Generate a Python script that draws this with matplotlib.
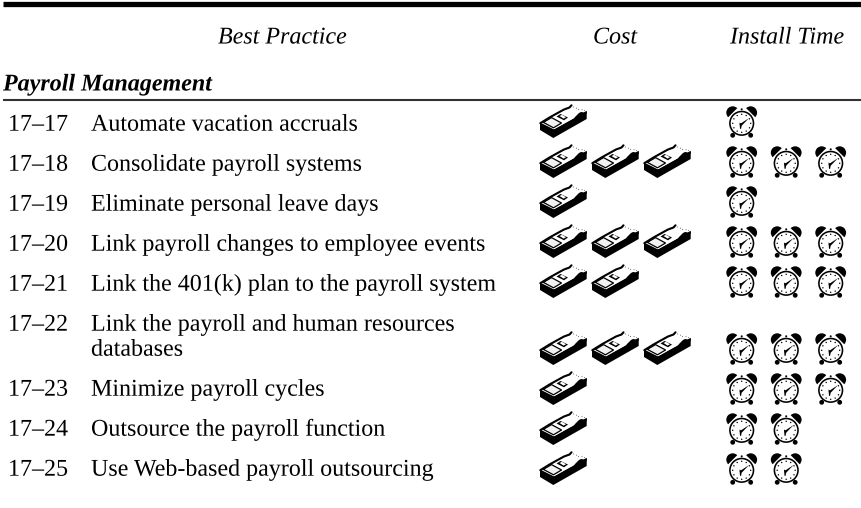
import numpy as np
import matplotlib
matplotlib.use("Agg")
import matplotlib.pyplot as plt
import matplotlib.patheffects as pe
from matplotlib.patches import Polygon, Circle, Wedge

# ---- data ----
practice_ids = ["17–17", "17–18", "17–19", "17–20", "17–21", "17–22", "17–23", "17–24", "17–25"]
practices = [
    "Automate vacation accruals",
    "Consolidate payroll systems",
    "Eliminate personal leave days",
    "Link payroll changes to employee events",
    "Link the 401(k) plan to the payroll system",
    "Link the payroll and human resources\ndatabases",
    "Minimize payroll cycles",
    "Outsource the payroll function",
    "Use Web-based payroll outsourcing",
]
cost_icons = [1, 3, 1, 3, 2, 3, 1, 1, 1]
time_icons = [1, 3, 1, 3, 3, 3, 3, 2, 2]
header_practice = "Best Practice"
header_cost = "Cost"
header_time = "Install Time"
section = "Payroll Management"

# ---- layout (pixels) ----
W, H = 862, 508
ROW_STEP = 40
LINE_STEP = 25
FIRST_BASE = 130.7
FIRST_ICON = 121.5
COST_X = 540
COST_STEP = 52
CLOCK_XS = 727
CLOCK_STEP = 44.5
FS = 17.3

plt.rcParams["font.family"] = ["Liberation Serif", "DejaVu Serif"]
plt.rcParams["path.effects"] = [pe.Normal()]
fig = plt.figure(figsize=(W / 100, H / 100), dpi=100)
ax = fig.add_axes([0, 0, 1, 1])
ax.set_xlim(0, W)
ax.set_ylim(H, 0)
ax.axis("off")


def poly(x0, y0, pts, fc, ec="none", lw=0, z=3):
    arr = np.asarray(pts, float) + [x0, y0]
    ax.add_patch(Polygon(arr, closed=True, fc=fc, ec=ec, lw=lw, zorder=z, joinstyle="round"))


def money(x0, cy):
    y0 = cy - 16.5
    # black block with thick side
    poly(x0, y0, [(0, 18), (13.3, 24.5), (46.7, 6), (46.7, 14), (13.3, 33), (0, 25)], "black")
    # top face
    poly(x0, y0, [(0.6, 17.8), (31, 0.6), (46.5, 6.2), (13.5, 24.6)], "white", z=4)
    # dark outline along back-left edge
    ax.plot(np.array([0.3, 9.5, 14, 24, 29.5, 31.5]) + x0, np.array([18.2, 12.5, 10, 4.5, 2.5, 0.3]) + y0,
            color="black", lw=1.5, zorder=5, solid_capstyle="round")
    # bill on the left half
    poly(x0, y0, [(3.4, 17.4), (11.5, 12.6), (21.5, 18), (13.5, 22.8)], "#f2f2f2", "black", 0.9, z=5)
    ax.plot(np.array([1.5, 13.5]) + x0, np.array([19, 25]) + y0, color="black", lw=1.0, zorder=6)
    # paper band
    poly(x0, y0, [(16.5, 11.5), (20.5, 9), (28, 12.5), (24, 15.3)], "black", z=6)
    poly(x0, y0, [(19.5, 11), (22, 9.8), (26, 12.2), (23.6, 13.6)], "white", z=7)
    # jagged top-right details
    for dx, dy in [(36.5, 3.2), (38.5, 4.5), (42, 4.6), (44.5, 5.6), (33.5, 2.0)]:
        ax.add_patch(Circle((x0 + dx, y0 + dy), 0.55, fc="#777777", ec="none", zorder=7))
    poly(x0, y0, [(32, 16.5), (46.7, 9), (46.7, 5.8), (44, 7.4), (41, 7.0), (39, 8.0), (35, 12)], "black", z=6)


def clock(x0, cy):
    cx, ccy = x0 + 14.7, cy + 1.8
    # feet
    for dx in (-9.0, 9.0):
        ax.add_patch(Circle((cx + dx, ccy + 12.0), 2.4, fc="black", ec="none", zorder=3))
    # bells, flat side facing the dial
    ax.add_patch(Wedge((cx - 9.0, ccy - 10.6), 6.4, 135, 315, fc="black", ec="none", zorder=3))
    ax.add_patch(Wedge((cx + 9.0, ccy - 10.6), 6.4, 225, 45, fc="black", ec="none", zorder=3))
    ax.add_patch(Circle((cx, ccy - 14.0), 1.0, fc="black", ec="none", zorder=3))
    # face
    ax.add_patch(Circle((cx, ccy), 12.6, fc="black", ec="none", zorder=4))
    ax.add_patch(Circle((cx, ccy), 11.0, fc="white", ec="none", zorder=5))
    # hour dots
    for a in np.deg2rad(np.arange(0, 360, 30)):
        ax.add_patch(Circle((cx + 9.0 * np.cos(a), ccy + 9.0 * np.sin(a)), 0.7,
                            fc="black", ec="none", zorder=6))
    # hands
    poly(cx, ccy, [(-2.2, 1.0), (7.3, -5.2), (0.0, 2.4)], "black", z=7)
    poly(cx, ccy, [(-2.2, -0.8), (0.2, 0.8), (-0.6, 5.5), (-1.7, 5.5)], "black", z=7)


# rules
ax.plot([3, W], [3.5, 3.5], color="black", lw=3.8, solid_capstyle="butt")
ax.plot([3, W], [100.3, 100.3], color="#333333", lw=1.5, solid_capstyle="butt")

# headers
ax.text(218, 43.5, header_practice, style="italic", fontsize=FS, va="baseline", ha="left")
ax.text(593, 43.5, header_cost, style="italic", fontsize=FS, va="baseline", ha="left")
ax.text(730, 43.5, header_time, style="italic", fontsize=FS, va="baseline", ha="left")
ax.text(3, 90.5, section, style="italic", weight="bold", fontsize=FS, va="baseline", ha="left")

# rows
extra_text = 0
extra_icon = 0
for i, (pid, name, nc, nt) in enumerate(zip(practice_ids, practices, cost_icons, time_icons)):
    base = FIRST_BASE + ROW_STEP * i + extra_text
    lines = name.split("\n")
    ax.text(8, base, pid, fontsize=FS, va="baseline", ha="left")
    for k, ln in enumerate(lines):
        ax.text(91, base + LINE_STEP * k, ln, fontsize=FS, va="baseline", ha="left")
    if len(lines) > 1:
        extra_text += LINE_STEP * (len(lines) - 1)
        extra_icon += 27
    icon_y = FIRST_ICON + ROW_STEP * i + extra_icon
    for c in range(nc):
        money(COST_X + COST_STEP * c, icon_y)
    for c in range(nt):
        clock(CLOCK_XS + CLOCK_STEP * c, icon_y)

fig.savefig("out.png", dpi=100)
